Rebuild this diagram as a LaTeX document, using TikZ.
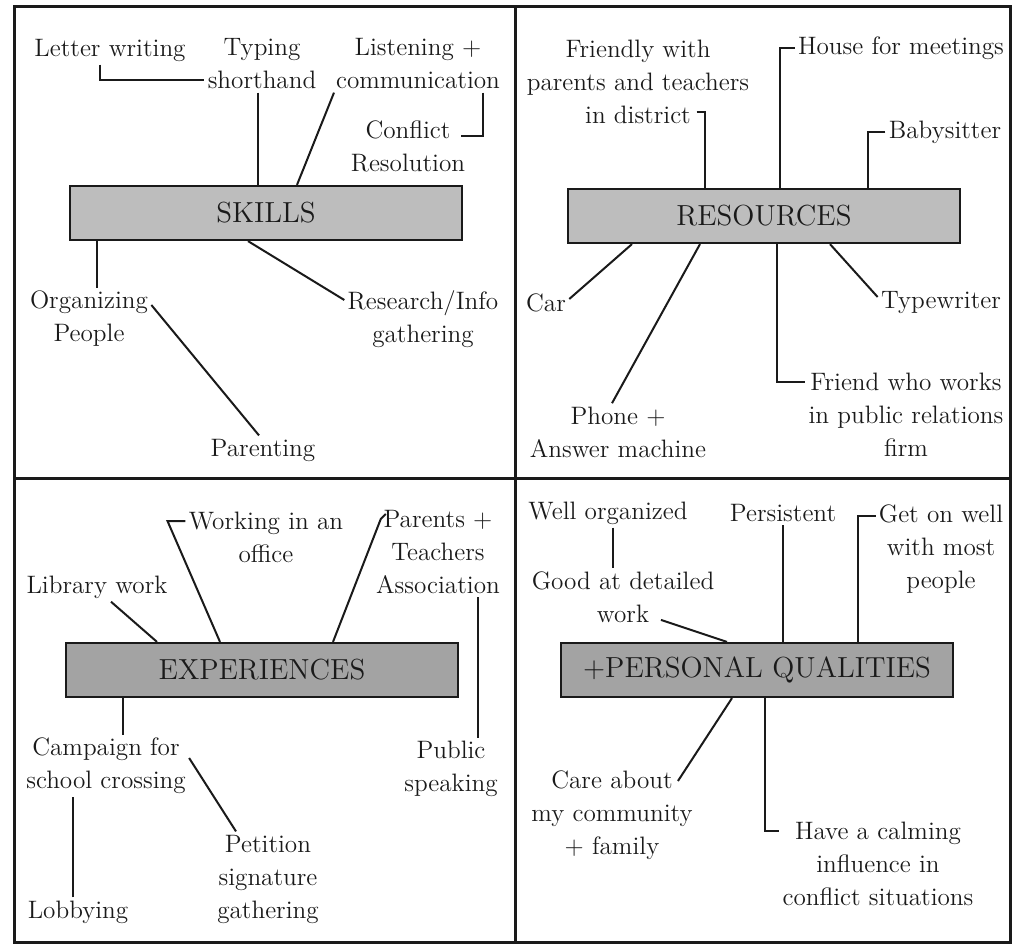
\documentclass[tikz,border=0pt]{standalone}
\usepackage{amsmath}
\usepackage{xcolor}
\usepackage{tikz}

\definecolor{boxlight}{HTML}{BDBDBD}
\definecolor{boxdark}{HTML}{A3A3A3}
\definecolor{ink}{HTML}{1A1A1A}

\begin{document}
\begin{tikzpicture}[x=0.5pt, y=-0.5pt]
        \def\boxw{196pt}
        \def\boxh{27pt}
        \tikzstyle{topic}=[rectangle, draw=ink, line width=1.1pt, minimum width=\boxw, minimum height=\boxh, inner sep=0pt, text=ink, font=\fontsize{14.5}{16}\selectfont]
        \tikzstyle{item}=[align=center, inner sep=1.5pt, text=ink, font=\fontsize{12.6}{16.5}\selectfont]
        \tikzstyle{link}=[draw=ink, line width=1pt]

        \useasboundingbox (0,0) rectangle (1013,947);

        % Frame
        \draw[ink, line width=1.5pt] (14,7) rectangle (1010,942);
        \draw[ink, line width=1.5pt] (515,7) -- (515,942);
        \draw[ink, line width=1.5pt] (14,478) -- (1010,478);

        % Nodes: skills
        \node[topic, fill=boxlight] (skills) at (266,213) {SKILLS};
        \node[item] (letter) at (110,50) {Letter writing};
        \node[item] (typing) at (262,64) {Typing\\shorthand};
        \node[item] (listen) at (418,64) {Listening +\\communication};
        \node[item] (conflict) at (408,146) {Conflict\\Resolution};
        \node[item] (organ) at (89,319) {Organizing\\People};
        \node[item] (parent) at (263,450) {Parenting};
        \node[item] (research) at (423,319) {Research/Info\\gathering};

        % Nodes: resources
        \node[topic, fill=boxlight] (res) at (764,216) {RESOURCES};
        \node[item] (friendly) at (638,82) {Friendly with\\parents and teachers\\in district};
        \node[item] (house) at (901,48) {House for meetings};
        \node[item] (baby) at (945,132) {Babysitter};
        \node[item] (car) at (546,303) {Car};
        \node[item] (typewr) at (941,303) {Typewriter};
        \node[item] (phone) at (618,432) {Phone +\\Answer machine};
        \node[item] (friend) at (906,415) {Friend who works\\in public relations\\firm};

        % Nodes: experiences
        \node[topic, fill=boxdark] (exp) at (262,670) {EXPERIENCES};
        \node[item] (office) at (266,537) {Working in an\\office};
        \node[item] (pta) at (438,552) {Parents +\\Teachers\\Association};
        \node[item] (library) at (97,587) {Library work};
        \node[item] (campaign) at (106,766) {Campaign for\\school crossing};
        \node[item] (public) at (451,769) {Public\\speaking};
        \node[item] (petition) at (268,879) {Petition\\signature\\gathering};
        \node[item] (lobby) at (78,912) {Lobbying};

        % Nodes: personal qualities
        \node[topic, fill=boxdark] (pq) at (757,670) {+PERSONAL QUALITIES};
        \node[item] (wellorg) at (608,513) {Well organized};
        \node[item] (good) at (623,597) {Good at detailed\\work};
        \node[item] (persist) at (783,513) {Persistent};
        \node[item] (geton) at (941,549) {Get on well\\with most\\people};
        \node[item] (care) at (612,815) {Care about\\my community\\+ family};
        \node[item] (calm) at (878,864) {Have a calming\\influence in\\conflict situations};

        % Edges: skills
        \draw[link] ([xshift=-5pt]letter.south) |- ([yshift=-8pt]typing.west);
        \draw[link] ([xshift=-2pt]typing.south) -- ([xshift=-2pt]typing.south |- skills.north);
        \draw[link] ([xshift=-42pt]listen.south) -- ([xshift=15.5pt]skills.north);
        \draw[link] ([xshift=32.5pt]listen.south) |- ([xshift=-4pt,yshift=5pt]conflict.east);
        \draw[link] ([xshift=4pt]organ.north) -- ([xshift=4pt]organ.north |- skills.south);
        \draw[link] ([yshift=7pt]organ.east) -- ([xshift=-2pt]parent.north);
        \draw[link] ([xshift=-9pt]skills.south) -- ([yshift=9.5pt]research.west);

        % Edges: resources
        \draw[link] ([xshift=-28pt,yshift=-15pt]friendly.east) -| ([xshift=-29.5pt]res.north);
        \draw[link] (house.west) -| ([xshift=8pt]res.north);
        \draw[link] (baby.west) -| ([xshift=52pt]res.north);
        \draw[link] ([yshift=2pt]car.east) -- ([xshift=-66pt]res.south);
        \draw[link] ([xshift=-32pt]res.south) -- ([xshift=-3pt]phone.north);
        \draw[link] ([xshift=33pt]res.south) -- ([yshift=3pt]typewr.west);
        \draw[link] ([xshift=6.5pt]res.south) |- ([yshift=16.5pt]friend.west);

        % Edges: experiences
        \draw[link] ([xshift=7pt]library.south) -- ([xshift=-52.5pt]exp.north);
        \draw[link] ([yshift=8pt]office.west) -- ++(-9pt,0pt) -- ([xshift=-21pt]exp.north);
        \draw[link] ([xshift=35.5pt]exp.north) -- ([xshift=4pt,yshift=16.5pt]pta.west) -- ++(2.5pt,2.5pt);
        \draw[link] ([xshift=20pt]pta.south) -- ([xshift=20pt]pta.south |- public.north);
        \draw[link] ([xshift=8.5pt]campaign.north) -- ([xshift=8.5pt]campaign.north |- exp.south);
        \draw[link] ([xshift=-2.5pt]lobby.north) -- ([xshift=-2.5pt]lobby.north |- campaign.south);
        \draw[link] ([yshift=4pt]campaign.east) -- ([xshift=-16pt]petition.north);

        % Edges: personal qualities
        \draw[link] ([xshift=2.5pt]wellorg.south) -- ([xshift=2.5pt]wellorg.south |- good.north);
        \draw[link] ([xshift=19pt,yshift=3pt]good.south) -- ([xshift=-15pt]pq.north);
        \draw[link] (persist.south) -- (persist.south |- pq.north);
        \draw[link] ([yshift=16.5pt]geton.west) -| ([xshift=50.5pt]pq.north);
        \draw[link] ([xshift=-9pt,yshift=17pt]care.east) -- ([xshift=-12.5pt]pq.south);
        \draw[link] ([xshift=4pt]pq.south) |- ([yshift=16.5pt]calm.west);

    \end{tikzpicture}
\end{document}
